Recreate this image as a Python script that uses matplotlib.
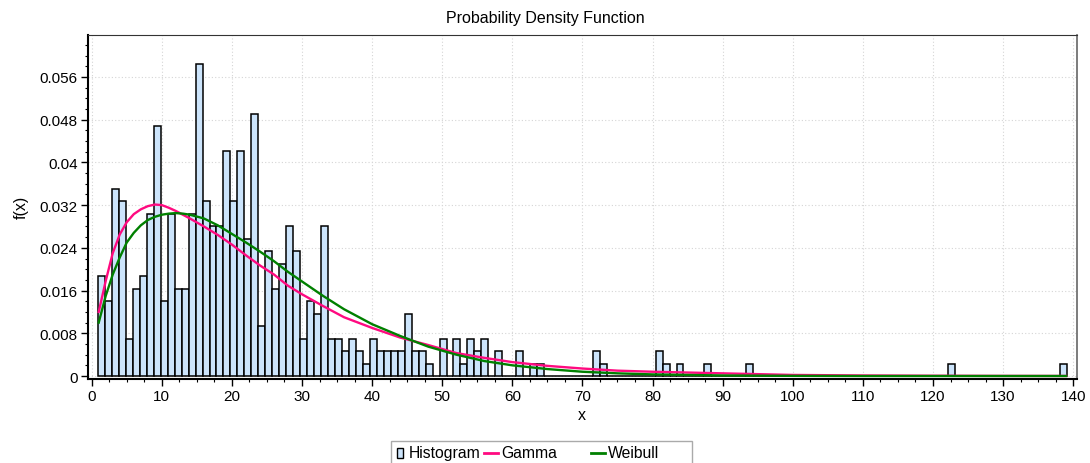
import matplotlib
matplotlib.use("Agg")
import matplotlib.pyplot as plt
import numpy as np
from matplotlib.lines import Line2D
from matplotlib.patches import Rectangle
from matplotlib.ticker import FuncFormatter, MultipleLocator

plt.rcParams["font.family"] = ["Liberation Sans", "DejaVu Sans"]

OUTPUT_PATH = "out.png"
FIG_W, FIG_H = 1090, 464

# histogram: counts per bin, bins start at BIN_START with width BIN_WIDTH
BIN_START = 0.9
BIN_WIDTH = 0.9942
HIST_COUNTS = [
    8, 6, 15, 14, 3, 7, 8, 13, 20, 6,
    13, 7, 7, 13, 25, 14, 12, 12, 18, 14,
    18, 11, 21, 4, 10, 7, 9, 12, 10, 3,
    6, 5, 12, 3, 3, 2, 3, 2, 1, 3,
    2, 2, 2, 2, 5, 2, 2, 1, 0, 3,
    0, 3, 1, 3, 2, 3, 0, 2, 0, 0,
    2, 0, 1, 1, 0, 0, 0, 0, 0, 0,
    0, 2, 1, 0, 0, 0, 0, 0, 0, 0,
    2, 1, 0, 1, 0, 0, 0, 1, 0, 0,
    0, 0, 0, 1, 0, 0, 0, 0, 0, 0,
    0, 0, 0, 0, 0, 0, 0, 0, 0, 0,
    0, 0, 0, 0, 0, 0, 0, 0, 0, 0,
    0, 0, 1, 0, 0, 0, 0, 0, 0, 0,
    0, 0, 0, 0, 0, 0, 0, 0, 1,
]

# fitted curves
CURVE_X = [1, 2, 3, 4, 5, 6, 7, 8, 9, 10, 11, 12, 13, 14, 16, 18, 20, 22, 24,
           26, 28, 30, 33, 36, 40, 44, 48, 52, 56, 60, 65, 70, 75, 80, 90,
           100, 110, 120, 130, 139]
GAMMA_PDF = [0.0120, 0.0178, 0.0230, 0.0265, 0.0288, 0.0303, 0.0312, 0.0318,
             0.0321, 0.0320, 0.0315, 0.0309, 0.0302, 0.0295, 0.0280, 0.0264,
             0.0246, 0.0226, 0.0207, 0.0190, 0.0169, 0.0153, 0.0131, 0.0110,
             0.0090, 0.0072, 0.0058, 0.0043, 0.0034, 0.0026, 0.0019, 0.0014,
             0.0010, 0.0008, 0.0005, 0.0002, 0.0001, 0.00005, 0.00002, 0.00001]
WEIBULL_PDF = [0.0100, 0.0150, 0.0190, 0.0222, 0.0250, 0.0268, 0.0282, 0.0292,
               0.0298, 0.0302, 0.0304, 0.0305, 0.0304, 0.0302, 0.0295, 0.0282,
               0.0266, 0.0250, 0.0233, 0.0215, 0.0195, 0.0177, 0.0150, 0.0125,
               0.0097, 0.0075, 0.0055, 0.0040, 0.0028, 0.0020, 0.0013, 0.0008,
               0.0005, 0.0003, 0.0001, 0.00003, 0.0, 0.0, 0.0, 0.0]

LEGEND_LABELS = ["Histogram", "Gamma", "Weibull"]

BAR_COLOR = "#cce4fb"
GAMMA_COLOR = "#ff0a80"
WEIBULL_COLOR = "#008000"


def y_fmt(v, _):
    if abs(v) < 1e-9:
        return "0"
    return f"{v:.3f}".rstrip("0")


def fx(px):
    return px / FIG_W


def fy(py):
    return 1 - py / FIG_H


def draw_legend(fig):
    # boxed legend under the plot, columns of equal width like the original
    tr = fig.transFigure
    fig.add_artist(Rectangle((fx(390.5), fy(466)), fx(691.7) - fx(390.5),
                             fy(442) - fy(466), transform=tr, facecolor="white",
                             edgecolor="#aaaaaa", lw=1, clip_on=False))
    fig.add_artist(Rectangle((fx(397), fy(459.3)), fx(403.3) - fx(397),
                             fy(448.5) - fy(459.3), transform=tr,
                             facecolor=BAR_COLOR, edgecolor="black", lw=1))
    fig.add_artist(Line2D([fx(484.3), fx(498.3)], [fy(454.3)] * 2,
                          transform=tr, color=GAMMA_COLOR, lw=2))
    fig.add_artist(Line2D([fx(590.7), fx(605)], [fy(454.3)] * 2,
                          transform=tr, color=WEIBULL_COLOR, lw=2))
    for label, px in zip(LEGEND_LABELS, [408.5, 501.7, 607.7]):
        fig.text(fx(px), fy(453.8), label, ha="left", va="center", fontsize=11.3)


def main():
    counts = np.array(HIST_COUNTS, dtype=float)
    density = counts / (counts.sum() * BIN_WIDTH)
    lefts = BIN_START + BIN_WIDTH * np.arange(len(counts))

    fig = plt.figure(figsize=(FIG_W / 100, FIG_H / 100), dpi=100)
    ax = fig.add_axes([fx(87.7), fy(380), fx(1076.7) - fx(87.7), fy(35.7) - fy(380)])

    ax.bar(lefts, density, width=BIN_WIDTH, align="edge", color=BAR_COLOR,
           edgecolor="black", linewidth=1.1, zorder=2)
    ax.plot(CURVE_X, GAMMA_PDF, color=GAMMA_COLOR, lw=1.7, zorder=3)
    ax.plot(CURVE_X, WEIBULL_PDF, color=WEIBULL_COLOR, lw=1.7, zorder=4)

    ax.set_xlim(-0.57, 140.5)
    ax.set_ylim(-0.00056, 0.0639)

    ax.xaxis.set_major_locator(MultipleLocator(10))
    ax.xaxis.set_minor_locator(MultipleLocator(2.5))
    ax.yaxis.set_major_locator(MultipleLocator(0.008))
    ax.yaxis.set_minor_locator(MultipleLocator(0.002))
    ax.yaxis.set_major_formatter(FuncFormatter(y_fmt))

    ax.tick_params(which="major", direction="out", length=5, width=1,
                   labelsize=11, pad=2)
    ax.tick_params(which="minor", direction="out", length=2.5, width=0.8)

    ax.grid(True, which="major", color="#d5d5d5", linestyle=(0, (1, 2)), lw=0.8)
    ax.set_axisbelow(True)

    for side in ("left", "bottom"):
        ax.spines[side].set_linewidth(1.5)
        ax.spines[side].set_color("black")
    ax.spines["top"].set_linewidth(0.8)
    ax.spines["top"].set_color("#333333")
    ax.spines["right"].set_linewidth(1.2)
    ax.spines["right"].set_color("#666666")

    ax.set_xlabel("x", fontsize=11.5, labelpad=3)
    ax.set_ylabel("f(x)", fontsize=11.5, labelpad=8)
    fig.text(0.5, fy(19), "Probability Density Function",
             ha="center", va="center", fontsize=11.5)

    draw_legend(fig)

    fig.savefig(OUTPUT_PATH, dpi=100)
    plt.close(fig)


if __name__ == "__main__":
    main()
